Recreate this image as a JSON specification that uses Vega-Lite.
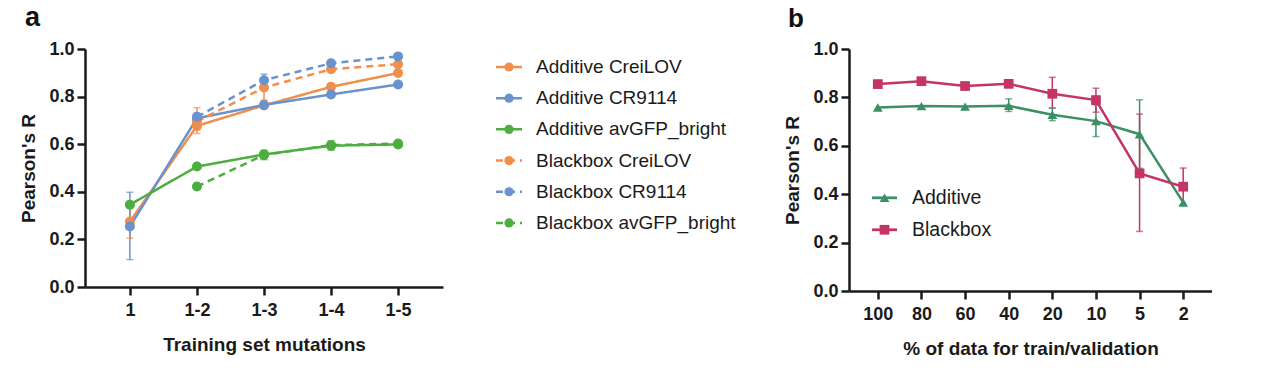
{
  "$schema": "https://vega.github.io/schema/vega-lite/v6.json",
  "padding": {"left": 19, "top": 4, "right": 0, "bottom": 0},
  "background": "white",
  "spacing": 47,
  "config": {
    "view": {"stroke": null},
    "font": "Liberation Sans",
    "axis": {
      "grid": false,
      "domainColor": "#1a1a1a", "domainWidth": 2.5,
      "tickColor": "#1a1a1a", "tickWidth": 2.5, "tickSize": 8,
      "labelFont": "Liberation Sans", "labelFontWeight": "bold", "labelFontSize": 18, "labelColor": "#1a1a1a",
      "titleFont": "Liberation Sans", "titleFontWeight": "bold", "titleFontSize": 19, "titleColor": "#1a1a1a"
    },
    "title": {"font": "Liberation Sans", "fontWeight": "bold", "fontSize": 27, "color": "#111111", "anchor": "start", "frame": "bounds"}
  },
  "resolve": {"scale": {"color": "independent", "strokeDash": "independent", "x": "independent", "y": "independent"}},
  "hconcat": [
    {
      "width": 358, "height": 238,
      "title": {"text": "a", "dx": 5, "offset": 8},
      "resolve": {"scale": {"x": "independent", "y": "independent", "color": "independent", "strokeDash": "independent"}},
      "layer": [
        {
          "data": {"values": [
            {"series": "Additive CreiLOV", "model": "Additive", "mut": "1", "r": 0.275, "lo": 0.205, "hi": 0.345},
            {"series": "Additive CreiLOV", "model": "Additive", "mut": "1-2", "r": 0.677, "lo": 0.66, "hi": 0.695},
            {"series": "Additive CreiLOV", "model": "Additive", "mut": "1-3", "r": 0.763, "lo": 0.75, "hi": 0.78},
            {"series": "Additive CreiLOV", "model": "Additive", "mut": "1-4", "r": 0.841, "lo": null, "hi": null},
            {"series": "Additive CreiLOV", "model": "Additive", "mut": "1-5", "r": 0.899, "lo": null, "hi": null},
            {"series": "Additive CR9114", "model": "Additive", "mut": "1", "r": 0.254, "lo": 0.115, "hi": 0.398},
            {"series": "Additive CR9114", "model": "Additive", "mut": "1-2", "r": 0.709, "lo": 0.69, "hi": 0.72},
            {"series": "Additive CR9114", "model": "Additive", "mut": "1-3", "r": 0.765, "lo": null, "hi": null},
            {"series": "Additive CR9114", "model": "Additive", "mut": "1-4", "r": 0.809, "lo": null, "hi": null},
            {"series": "Additive CR9114", "model": "Additive", "mut": "1-5", "r": 0.851, "lo": null, "hi": null},
            {"series": "Additive avGFP_bright", "model": "Additive", "mut": "1", "r": 0.346, "lo": null, "hi": null},
            {"series": "Additive avGFP_bright", "model": "Additive", "mut": "1-2", "r": 0.506, "lo": null, "hi": null},
            {"series": "Additive avGFP_bright", "model": "Additive", "mut": "1-3", "r": 0.557, "lo": 0.54, "hi": 0.575},
            {"series": "Additive avGFP_bright", "model": "Additive", "mut": "1-4", "r": 0.594, "lo": 0.575, "hi": 0.615},
            {"series": "Additive avGFP_bright", "model": "Additive", "mut": "1-5", "r": 0.599, "lo": null, "hi": null},
            {"series": "Blackbox CreiLOV", "model": "Blackbox", "mut": "1-2", "r": 0.695, "lo": 0.645, "hi": 0.753},
            {"series": "Blackbox CreiLOV", "model": "Blackbox", "mut": "1-3", "r": 0.838, "lo": 0.785, "hi": 0.876},
            {"series": "Blackbox CreiLOV", "model": "Blackbox", "mut": "1-4", "r": 0.915, "lo": null, "hi": null},
            {"series": "Blackbox CreiLOV", "model": "Blackbox", "mut": "1-5", "r": 0.936, "lo": null, "hi": null},
            {"series": "Blackbox CR9114", "model": "Blackbox", "mut": "1-2", "r": 0.715, "lo": 0.7, "hi": 0.73},
            {"series": "Blackbox CR9114", "model": "Blackbox", "mut": "1-3", "r": 0.869, "lo": 0.845, "hi": 0.894},
            {"series": "Blackbox CR9114", "model": "Blackbox", "mut": "1-4", "r": 0.94, "lo": null, "hi": null},
            {"series": "Blackbox CR9114", "model": "Blackbox", "mut": "1-5", "r": 0.969, "lo": null, "hi": null},
            {"series": "Blackbox avGFP_bright", "model": "Blackbox", "mut": "1-2", "r": 0.422, "lo": 0.41, "hi": 0.435},
            {"series": "Blackbox avGFP_bright", "model": "Blackbox", "mut": "1-3", "r": 0.555, "lo": 0.535, "hi": 0.57},
            {"series": "Blackbox avGFP_bright", "model": "Blackbox", "mut": "1-4", "r": 0.596, "lo": null, "hi": null},
            {"series": "Blackbox avGFP_bright", "model": "Blackbox", "mut": "1-5", "r": 0.603, "lo": null, "hi": null}
          ]},
          "encoding": {
            "x": {"field": "mut", "type": "ordinal",
                  "scale": {"type": "point", "padding": 0.67, "domain": ["1", "1-2", "1-3", "1-4", "1-5"]},
                  "axis": {"title": "Training set mutations", "labelAngle": 0, "labelPadding": 6, "titlePadding": 16}},
            "y": {"field": "r", "type": "quantitative", "scale": {"domain": [0, 1], "nice": false, "zero": true},
                  "axis": {"title": "Pearson's R", "values": [0, 0.2, 0.4, 0.6, 0.8, 1.0], "format": ".1f", "labelPadding": 3, "titlePadding": 10}},
            "color": {"field": "series", "type": "nominal", "legend": null,
                      "scale": {"domain": ["Additive CreiLOV", "Additive CR9114", "Additive avGFP_bright", "Blackbox CreiLOV", "Blackbox CR9114", "Blackbox avGFP_bright"],
                                "range": ["#F28E4B", "#6A92CC", "#4BAE3E", "#F28E4B", "#6A92CC", "#4BAE3E"]}}
          },
          "layer": [
            {
              "transform": [{"filter": "datum.lo != null"}],
              "mark": {"type": "rule", "strokeWidth": 1.5},
              "encoding": {"y": {"field": "lo", "type": "quantitative"}, "y2": {"field": "hi"}}
            },
            {
              "transform": [{"filter": "datum.lo != null"}],
              "mark": {"type": "tick", "size": 7, "thickness": 1.5},
              "encoding": {"y": {"field": "lo", "type": "quantitative"}}
            },
            {
              "transform": [{"filter": "datum.hi != null"}],
              "mark": {"type": "tick", "size": 7, "thickness": 1.5},
              "encoding": {"y": {"field": "hi", "type": "quantitative"}}
            },
            {
              "mark": {"type": "line", "strokeWidth": 2.5},
              "encoding": {
                "strokeDash": {"field": "model", "type": "nominal", "legend": null, "scale": {"domain": ["Additive", "Blackbox"], "range": [[1, 0], [7, 5]]}}
              }
            },
            {
              "mark": {"type": "circle", "size": 100, "opacity": 1},
              "encoding": {}
            }
          ]
        },
        {
          "data": {"values": [
            {"series": "Additive CreiLOV", "model": "Additive"},
            {"series": "Additive CR9114", "model": "Additive"},
            {"series": "Additive avGFP_bright", "model": "Additive"},
            {"series": "Blackbox CreiLOV", "model": "Blackbox"},
            {"series": "Blackbox CR9114", "model": "Blackbox"},
            {"series": "Blackbox avGFP_bright", "model": "Blackbox"}
          ]},
          "encoding": {
            "y": {"field": "series", "type": "nominal", "axis": null,
                  "scale": {"type": "band", "domain": ["Additive CreiLOV", "Additive CR9114", "Additive avGFP_bright", "Blackbox CreiLOV", "Blackbox CR9114", "Blackbox avGFP_bright"], "paddingInner": 0, "paddingOuter": 0.815, "align": 0.047}},
            "color": {"field": "series", "type": "nominal", "legend": null,
                      "scale": {"domain": ["Additive CreiLOV", "Additive CR9114", "Additive avGFP_bright", "Blackbox CreiLOV", "Blackbox CR9114", "Blackbox avGFP_bright"],
                                "range": ["#F28E4B", "#6A92CC", "#4BAE3E", "#F28E4B", "#6A92CC", "#4BAE3E"]}}
          },
          "layer": [
            {
              "mark": {"type": "rule", "strokeWidth": 2.5, "strokeCap": "butt"},
              "encoding": {
                "x": {"datum": 114.8, "type": "quantitative", "scale": {"domain": [0, 100], "nice": false, "zero": false}, "axis": null},
                "x2": {"datum": 122.07},
                "strokeDash": {"field": "model", "type": "nominal", "legend": null, "scale": {"domain": ["Additive", "Blackbox"], "range": [[1, 0], [7, 5]]}}
              }
            },
            {
              "mark": {"type": "circle", "size": 85, "opacity": 1},
              "encoding": {"x": {"datum": 118.44, "type": "quantitative"}}
            },
            {
              "mark": {"type": "text", "align": "left", "baseline": "middle", "fontSize": 19, "font": "Liberation Sans"},
              "encoding": {"x": {"datum": 125.98, "type": "quantitative"}, "text": {"field": "series"}, "color": {"value": "#1a1a1a"}}
            }
          ]
        }
      ]
    },
    {
      "width": 363, "height": 242,
      "title": {"text": "b", "dx": 4, "offset": 8, "fontSize": 26},
      "resolve": {"scale": {"x": "independent", "y": "independent", "color": "independent"}},
      "layer": [
        {
          "data": {"values": [
            {"model": "Additive", "pct": "100", "r": 0.758, "lo": null, "hi": null},
            {"model": "Additive", "pct": "80", "r": 0.764, "lo": null, "hi": null},
            {"model": "Additive", "pct": "60", "r": 0.762, "lo": null, "hi": null},
            {"model": "Additive", "pct": "40", "r": 0.765, "lo": 0.742, "hi": 0.794},
            {"model": "Additive", "pct": "20", "r": 0.728, "lo": 0.704, "hi": 0.755},
            {"model": "Additive", "pct": "10", "r": 0.702, "lo": 0.638, "hi": 0.769},
            {"model": "Additive", "pct": "5", "r": 0.648, "lo": 0.507, "hi": 0.79},
            {"model": "Additive", "pct": "2", "r": 0.366, "lo": null, "hi": null},
            {"model": "Blackbox", "pct": "100", "r": 0.855, "lo": null, "hi": null},
            {"model": "Blackbox", "pct": "80", "r": 0.867, "lo": null, "hi": null},
            {"model": "Blackbox", "pct": "60", "r": 0.847, "lo": null, "hi": null},
            {"model": "Blackbox", "pct": "40", "r": 0.856, "lo": null, "hi": null},
            {"model": "Blackbox", "pct": "20", "r": 0.815, "lo": 0.756, "hi": 0.883},
            {"model": "Blackbox", "pct": "10", "r": 0.789, "lo": 0.739, "hi": 0.838},
            {"model": "Blackbox", "pct": "5", "r": 0.486, "lo": 0.246, "hi": 0.731},
            {"model": "Blackbox", "pct": "2", "r": 0.431, "lo": 0.355, "hi": 0.508}
          ]},
          "encoding": {
            "x": {"field": "pct", "type": "ordinal",
                  "scale": {"type": "point", "padding": 0.66, "domain": ["100", "80", "60", "40", "20", "10", "5", "2"]},
                  "axis": {"title": "% of data for train/validation", "labelAngle": 0, "labelPadding": 6, "titlePadding": 16}},
            "y": {"field": "r", "type": "quantitative", "scale": {"domain": [0, 1], "nice": false, "zero": true},
                  "axis": {"title": "Pearson's R", "values": [0, 0.2, 0.4, 0.6, 0.8, 1.0], "format": ".1f", "labelPadding": 3, "titlePadding": 10}},
            "color": {"field": "model", "type": "nominal", "legend": null,
                      "scale": {"domain": ["Additive", "Blackbox"], "range": ["#3C9063", "#C53468"]}}
          },
          "layer": [
            {
              "transform": [{"filter": "datum.lo != null"}],
              "mark": {"type": "rule", "strokeWidth": 1.5},
              "encoding": {"y": {"field": "lo", "type": "quantitative"}, "y2": {"field": "hi"}}
            },
            {
              "transform": [{"filter": "datum.lo != null"}],
              "mark": {"type": "tick", "size": 7, "thickness": 1.5},
              "encoding": {"y": {"field": "lo", "type": "quantitative"}}
            },
            {
              "transform": [{"filter": "datum.hi != null"}],
              "mark": {"type": "tick", "size": 7, "thickness": 1.5},
              "encoding": {"y": {"field": "hi", "type": "quantitative"}}
            },
            {
              "mark": {"type": "line", "strokeWidth": 2.5},
              "encoding": {}
            },
            {
              "transform": [{"filter": "datum.model == 'Additive'"}],
              "mark": {"type": "point", "filled": true, "opacity": 1, "size": 95, "shape": "triangle-up"},
              "encoding": {}
            },
            {
              "transform": [{"filter": "datum.model == 'Blackbox'"}],
              "mark": {"type": "point", "filled": true, "opacity": 1, "size": 95, "shape": "square"},
              "encoding": {}
            }
          ]
        },
        {
          "data": {"values": [
            {"model": "Additive"},
            {"model": "Blackbox"}
          ]},
          "encoding": {
            "color": {"field": "model", "type": "nominal", "legend": null,
                      "scale": {"domain": ["Additive", "Blackbox"], "range": ["#3C9063", "#C53468"]}}
          },
          "layer": [
            {
              "transform": [{"filter": "datum.model == 'Additive'"}],
              "encoding": {"y": {"datum": 0.385, "type": "quantitative", "scale": {"domain": [0, 1], "nice": false, "zero": true}, "axis": null}},
              "layer": [
                {
                  "mark": {"type": "rule", "strokeWidth": 2.8, "strokeCap": "butt"},
                  "encoding": {
                    "x": {"datum": 6.34, "type": "quantitative", "scale": {"domain": [0, 100], "nice": false, "zero": false}, "axis": null},
                    "x2": {"datum": 13.22}
                  }
                },
                {
                  "mark": {"type": "point", "filled": true, "opacity": 1, "size": 95, "shape": "triangle-up"},
                  "encoding": {"x": {"datum": 9.78, "type": "quantitative"}}
                },
                {
                  "mark": {"type": "text", "align": "left", "baseline": "middle", "fontSize": 19.5, "font": "Liberation Sans"},
                  "encoding": {"x": {"datum": 17.36, "type": "quantitative"}, "text": {"field": "model"}, "color": {"value": "#1a1a1a"}}
                }
              ]
            },
            {
              "transform": [{"filter": "datum.model == 'Blackbox'"}],
              "encoding": {"y": {"datum": 0.253, "type": "quantitative"}},
              "layer": [
                {
                  "mark": {"type": "rule", "strokeWidth": 2.8, "strokeCap": "butt"},
                  "encoding": {
                    "x": {"datum": 6.34, "type": "quantitative"},
                    "x2": {"datum": 13.22}
                  }
                },
                {
                  "mark": {"type": "point", "filled": true, "opacity": 1, "size": 95, "shape": "square"},
                  "encoding": {"x": {"datum": 9.78, "type": "quantitative"}}
                },
                {
                  "mark": {"type": "text", "align": "left", "baseline": "middle", "fontSize": 19.5, "font": "Liberation Sans"},
                  "encoding": {"x": {"datum": 17.36, "type": "quantitative"}, "text": {"field": "model"}, "color": {"value": "#1a1a1a"}}
                }
              ]
            }
          ]
        }
      ]
    }
  ]
}
